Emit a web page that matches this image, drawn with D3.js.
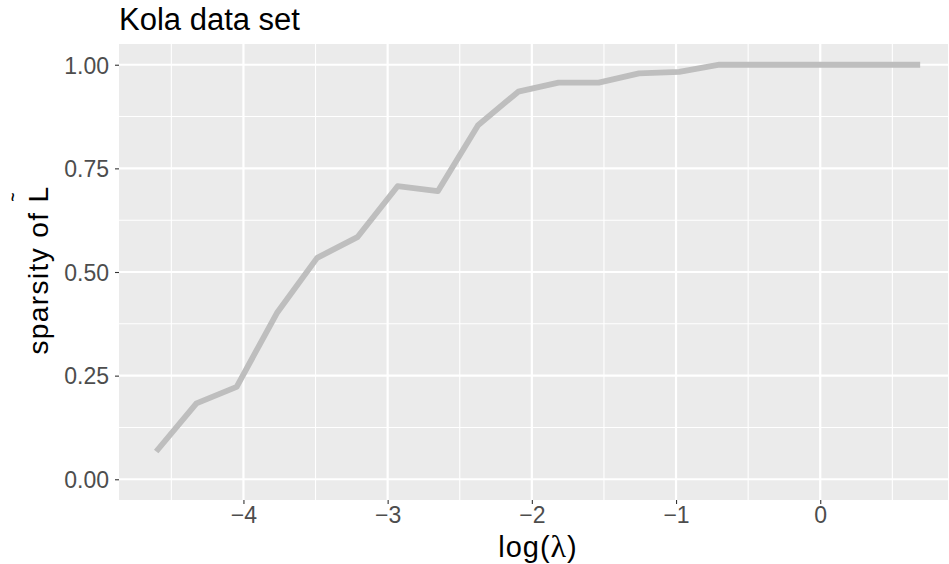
<!DOCTYPE html>
<html>
<head>
<meta charset="utf-8">
<script src="https://cdn.jsdelivr.net/npm/d3@7/dist/d3.min.js"></script>
<style>
  html, body { margin: 0; padding: 0; background: #ffffff; }
  svg { display: block; }
  text { font-family: "Liberation Sans", Arial, Helvetica, sans-serif; }
</style>
</head>
<body>
<svg id="chart" width="949" height="564"></svg>
<script>
// log(lambda) grid and the sparsity reached at each value
const logLambda = [-4.605, -4.326, -4.047, -3.768, -3.489, -3.210, -2.931, -2.652, -2.373, -2.094,
                   -1.815, -1.536, -1.257, -0.978, -0.699, -0.420, -0.141, 0.138, 0.417, 0.693];
const sparsity  = [0.067, 0.183, 0.223, 0.401, 0.534, 0.584, 0.707, 0.695, 0.854, 0.935,
                   0.957, 0.957, 0.979, 0.983, 1.000, 1.000, 1.000, 1.000, 1.000, 1.000];

const xMajor = [-4, -3, -2, -1, 0];
const xMinor = [-4.5, -3.5, -2.5, -1.5, -0.5, 0.5];
const yMajor = [0, 0.25, 0.5, 0.75, 1];
const yMinor = [0.125, 0.375, 0.625, 0.875];
const yTickLabels = ["0.00", "0.25", "0.50", "0.75", "1.00"];

const titleText = "Kola data set";

const svg = d3.select("#chart");
const panel = { left: 119, right: 948, top: 44, bottom: 500 };

const x = d3.scaleLinear().domain([-4.863, 0.886]).range([panel.left, panel.right]);
const y = d3.scaleLinear().domain([-0.05, 1.05]).range([panel.bottom, panel.top]);

// panel background
svg.append("rect")
  .attr("x", panel.left).attr("y", panel.top)
  .attr("width", panel.right - panel.left).attr("height", panel.bottom - panel.top)
  .attr("fill", "#EBEBEB");

const grid = svg.append("g");
// minor grid
grid.selectAll(".vminor").data(xMinor).join("line")
  .attr("x1", d => x(d)).attr("x2", d => x(d))
  .attr("y1", panel.top).attr("y2", panel.bottom)
  .attr("stroke", "#ffffff").attr("stroke-width", 1.1);
grid.selectAll(".hminor").data(yMinor).join("line")
  .attr("y1", d => y(d)).attr("y2", d => y(d))
  .attr("x1", panel.left).attr("x2", panel.right)
  .attr("stroke", "#ffffff").attr("stroke-width", 1.1);
// major grid
grid.selectAll(".vmajor").data(xMajor).join("line")
  .attr("x1", d => x(d)).attr("x2", d => x(d))
  .attr("y1", panel.top).attr("y2", panel.bottom)
  .attr("stroke", "#ffffff").attr("stroke-width", 2.2);
grid.selectAll(".hmajor").data(yMajor).join("line")
  .attr("y1", d => y(d)).attr("y2", d => y(d))
  .attr("x1", panel.left).attr("x2", panel.right)
  .attr("stroke", "#ffffff").attr("stroke-width", 2.2);

// sparsity path
const pts = logLambda.map((v, i) => [v, sparsity[i]]);
svg.append("path")
  .datum(pts)
  .attr("fill", "none")
  .attr("stroke", "#BEBEBE")
  .attr("stroke-width", 5.8)
  .attr("stroke-linejoin", "round")
  .attr("d", d3.line().x(d => x(d[0])).y(d => y(d[1])));

// axes
const xAxis = d3.axisBottom(x).tickValues(xMajor).tickSize(4)
  .tickFormat(d => d < 0 ? "\u2212" + Math.abs(d) : String(d));
const gx = svg.append("g").attr("transform", `translate(0,${panel.bottom})`).call(xAxis);
gx.select(".domain").remove();
gx.selectAll(".tick line").attr("stroke", "#333333").attr("stroke-width", 1.1);
gx.selectAll(".tick text").attr("fill", "#4D4D4D").attr("font-size", 23)
  .attr("y", 7).attr("dy", "0.71em");

const yAxis = d3.axisLeft(y).tickValues(yMajor).tickSize(4)
  .tickFormat((d, i) => yTickLabels[i]);
const gy = svg.append("g").attr("transform", `translate(${panel.left},0)`).call(yAxis);
gy.select(".domain").remove();
gy.selectAll(".tick line").attr("stroke", "#333333").attr("stroke-width", 1.1);
gy.selectAll(".tick text").attr("fill", "#4D4D4D").attr("font-size", 23)
  .attr("x", -10).attr("dy", "0.36em");

// title
svg.append("text")
  .attr("x", panel.left).attr("y", 30)
  .attr("font-size", 31).attr("fill", "#000000")
  .text(titleText);

// x axis title
const xt = svg.append("text")
  .attr("x", 538).attr("y", 557)
  .attr("text-anchor", "middle").attr("font-size", 29).attr("fill", "#000000")
  .attr("letter-spacing", 1);
xt.append("tspan").text("log(");
xt.append("tspan").attr("font-family", "'Liberation Serif', 'DejaVu Serif', serif")
  .attr("font-size", 32).text("\u03BB");
xt.append("tspan").text(")");

// y axis title: "sparsity of" followed by L with a small tilde set above it
const yt = svg.append("text")
  .attr("transform", `translate(48,270) rotate(-90)`)
  .attr("text-anchor", "middle").attr("font-size", 28).attr("fill", "#000000")
  .attr("letter-spacing", 1.4);
yt.append("tspan").text("sparsity of  L");
yt.append("tspan").attr("font-size", 15).attr("font-weight", "bold")
  .attr("dx", -16).attr("dy", -30).text("~");
</script>
</body>
</html>
